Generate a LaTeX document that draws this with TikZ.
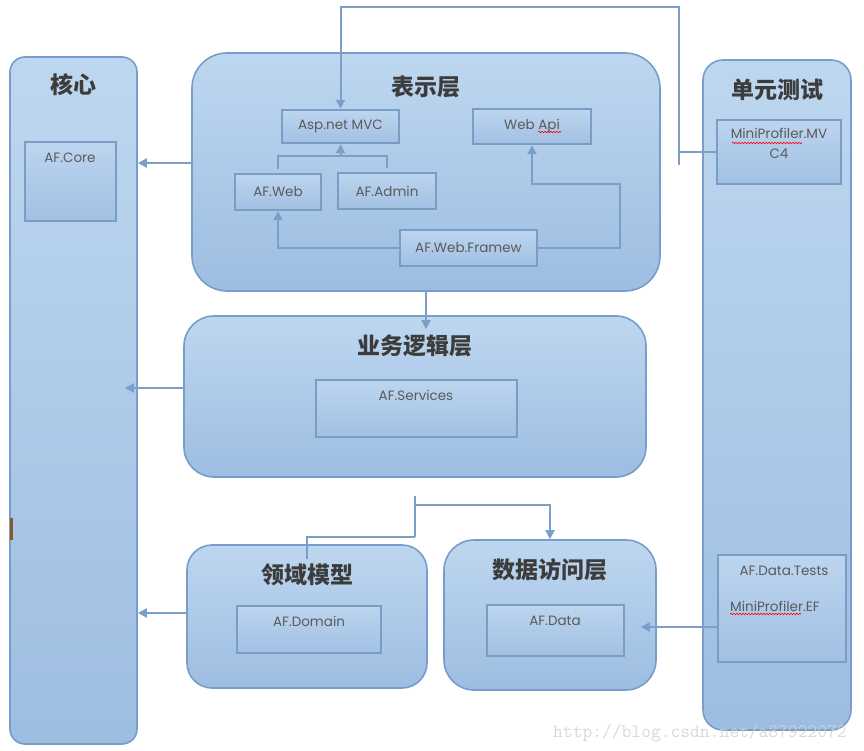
\documentclass[tikz,border=0pt]{standalone}
\usepackage{fontspec}
\setsansfont{Poppins}
\newfontfamily\cjk{Noto Sans CJK SC}
\usetikzlibrary{positioning, arrows.meta, decorations.pathmorphing}

\definecolor{layTop}{HTML}{BED7F0}
\definecolor{layBot}{HTML}{9DBDE1}
\definecolor{layEdge}{HTML}{779DC8}
\definecolor{modTop}{HTML}{BCD5EF}
\definecolor{modBot}{HTML}{A2C0E3}
\definecolor{modEdge}{HTML}{7A9DC6}
\definecolor{lineBlue}{HTML}{7A9FC8}
\definecolor{txtGray}{HTML}{5A5A5A}
\definecolor{ttlGray}{HTML}{3C3C3C}

\tikzset{
  layer/.style={draw=layEdge, line width=1.6pt, top color=layTop, bottom color=layBot},
  mod/.style={draw=modEdge, line width=2.4pt, top color=modTop, bottom color=modBot,
    font=\sffamily\fontsize{13.5}{15}\selectfont, text=txtGray, inner sep=0pt},
  ttl/.style={font=\cjk\bfseries\fontsize{23}{25}\selectfont, text=ttlGray},
  txt/.style={font=\sffamily\fontsize{13.5}{15}\selectfont, text=txtGray, inner sep=0pt},
  link/.style={draw=lineBlue, line width=2pt},
  tip/.style={link, -{Triangle[width=9pt,length=9pt]}},
  squig/.style={draw=red, line width=0.6pt, decorate,
    decoration={snake, amplitude=0.8pt, segment length=3pt}}
}

\begin{document}
\begin{tikzpicture}[x=1pt, y=-1pt]
  \useasboundingbox (0,0) rectangle (864,751);

  % layers
  \node[layer, rounded corners=15pt, minimum width=127pt, minimum height=687pt] (core) at (73.5,400.5) {};
  \node[layer, rounded corners=35pt, minimum width=468pt, minimum height=238pt] (pres) at (426,172) {};
  \node[layer, rounded corners=30pt, minimum width=462pt, minimum height=161pt] (biz) at (415,396.5) {};
  \node[layer, rounded corners=25pt, minimum width=240pt, minimum height=143pt] (dom) at (307,616.5) {};
  \node[layer, rounded corners=30pt, minimum width=212pt, minimum height=150pt] (dat) at (550,615) {};
  \node[layer, rounded corners=20pt, minimum width=148pt, minimum height=670pt] (test) at (777,395) {};

  \node[ttl] (coreT) at (73,85) {核心};
  \node[ttl] (presT) at (426,87) {表示层};
  \node[ttl] (bizT) at (415,346) {业务逻辑层};
  \node[ttl] (domT) at (307,575) {领域模型};
  \node[ttl] (datT) at (550,570) {数据访问层};
  \node[ttl] (testT) at (777,90) {单元测试};

  % modules
  \node[mod, minimum width=91pt, minimum height=79pt] (afcore) at (70.5,181.5) {};
  \node[txt] (afcoreT) at (70,158) {AF.Core};
  \node[mod, minimum width=117pt, minimum height=33pt] (mvc) at (340.5,126.5) {Asp.net MVC};
  \node[mod, minimum width=118pt, minimum height=35pt] (api) at (532,126.5) {Web Api};
  \node[mod, minimum width=86pt, minimum height=36pt] (web) at (278,192) {AF.Web};
  \node[mod, minimum width=98pt, minimum height=36pt] (admin) at (387,191) {AF.Admin};
  \node[mod, minimum width=137pt, minimum height=36pt] (fw) at (468.5,248) {AF.Web.Framew};
  \node[mod, minimum width=201pt, minimum height=57pt] (svc) at (416.5,408.5) {};
  \node[txt] (svcT) at (416,395) {AF.Services};
  \node[mod, minimum width=144pt, minimum height=47pt] (domain) at (309,629.5) {};
  \node[txt] (domainT) at (309,621) {AF.Domain};
  \node[mod, minimum width=137pt, minimum height=51pt] (data) at (555.5,630.5) {};
  \node[txt] (dataT) at (555,621) {AF.Data};
  \node[mod, minimum width=124pt, minimum height=64pt] (mvc4) at (779,152) {};
  \node[txt] (mvc4T) at (779,133) {MiniProfiler.MV};
  \node[txt] (mvc4U) at (779,154) {C4};
  \node[mod, minimum width=128pt, minimum height=107pt] (dtests) at (782,608.5) {};
  \node[txt] (dtestsT) at (784,571) {AF.Data.Tests};
  \node[txt, anchor=west] (dtestsU) at (730,606) {MiniProfiler.EF};

  % spelling marks
  \draw[squig] (538,132) -- (561,132);
  \draw[squig] (732,143) -- (802,143);
  \draw[squig] (730,614) -- (801,614);

  % connectors
  \coordinate (jn) at (340.5,156);
  \draw[link] ([yshift=4pt]web.north) |- (jn);
  \draw[link] ([yshift=4pt]admin.north) |- (jn);
  \draw[tip] (jn) -- (mvc.south);
  \draw[tip] (fw.west) -| (web.south);
  \coordinate (fr) at (620,184);
  \draw[tip] (fw.east) -| (fr) -| (api.south);

  \coordinate (tstub) at (679,165);
  \coordinate (ttop) at (500,7);
  \draw[link] (mvc4.west) -- (mvc4.west -| tstub);
  \draw[tip] (tstub) |- (ttop) -| (mvc.north);

  \coordinate (p1) at ([yshift=9pt]pres.west);
  \draw[tip] (p1) -- (p1 -| core.east);
  \coordinate (b1) at ([yshift=8.5pt]biz.west);
  \coordinate (b2) at (b1 -| core.east);
  \draw[tip] (b1) -- ([xshift=-13pt]b2);
  \coordinate (d1) at ([yshift=3.5pt]dom.west);
  \draw[tip] (d1) -- (d1 -| core.east);
  \coordinate (t1) at ([yshift=-18.5pt]dtests.west);
  \coordinate (t2) at (t1 -| dat.east);
  \draw[tip] (t1) -- ([xshift=-16pt]t2);

  \coordinate (p2) at ([yshift=-14pt]biz.north -| pres.south);
  \draw[tip] (pres.south) -- (p2);
  \coordinate (s1) at (415,496);
  \coordinate (s2) at (415,537);
  \coordinate (s3) at (415,505);
  \draw[link] (s1) -- (s2);
  \draw[tip] (s3) -| (dat.north);
  \draw[link] (s2) -| ([yshift=-15pt]dom.north);

  % stray mark
  \fill[brown!70!black] (10,518) rectangle (12.5,540);

  % watermark
  \node[font=\ttfamily\fontsize{19}{19}\selectfont, text=gray!35, opacity=0.85, anchor=west, inner sep=0pt] (mark) at (553,733) {http://blog.csdn.net/a87922072};
\end{tikzpicture}
\end{document}
